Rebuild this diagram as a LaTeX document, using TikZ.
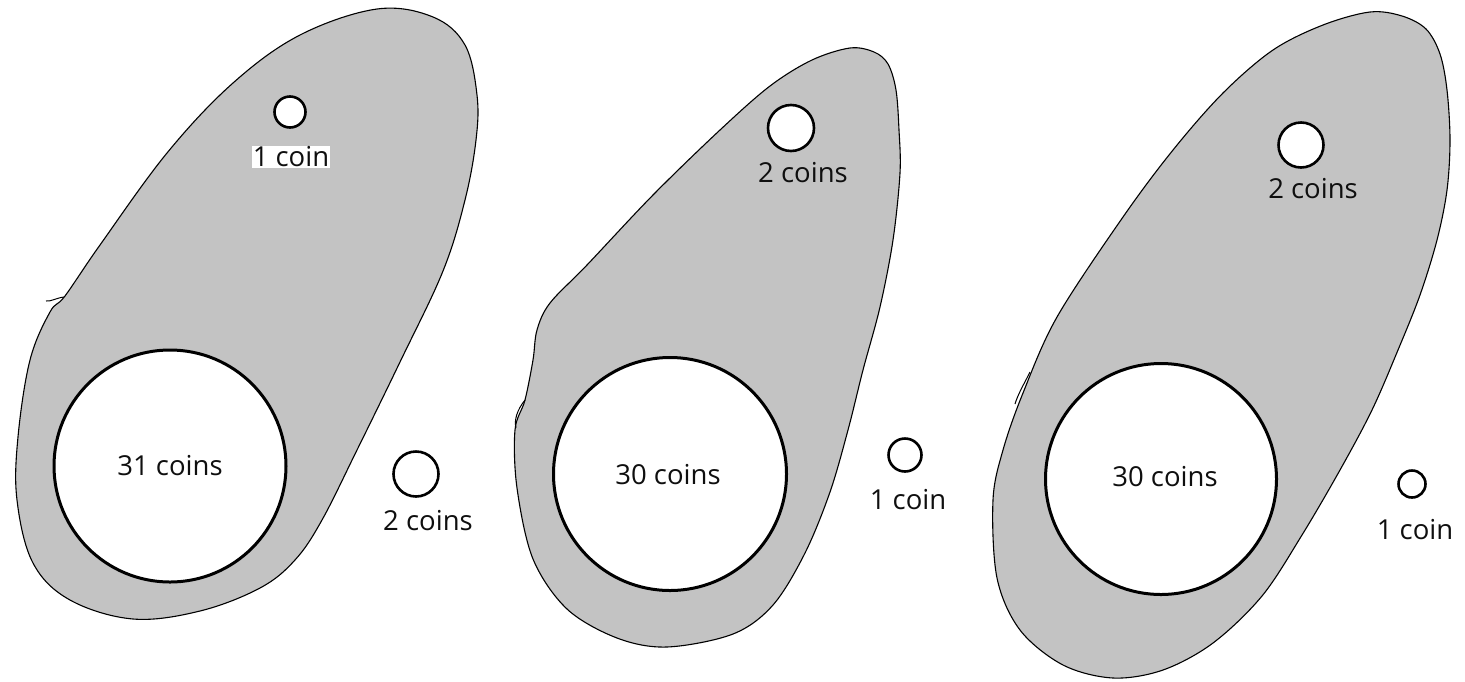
\documentclass[tikz,border=0pt]{standalone}
\usepackage{fontspec}
\setmainfont{Open Sans}
\definecolor{blobgray}{RGB}{195,195,195}
\definecolor{inktext}{RGB}{15,15,15}
\tikzset{
  blob/.style={draw=black, line width=1.1pt, fill=blobgray},
  bigcoin/.style={circle, draw=black, line width=3pt, fill=white, inner sep=0pt},
  smallcoin/.style={circle, draw=black, line width=2.6pt, fill=white, inner sep=0pt},
  lbl/.style={font=\fontsize{27.5}{30}\selectfont, text=inktext, inner sep=1pt},
  tail/.style={draw=black, line width=1pt}
}
\begin{document}
\begin{tikzpicture}[x=1pt,y=-1pt]
\useasboundingbox[fill=white] (0,0) rectangle (1465,681);

% blob 1
\draw[blob] plot[smooth cycle, tension=0.6] coordinates {
(377,9) (433,17) (465,45) (477,95) (476,140) (465,200) (443,271) (400,362)
(357,450) (322,520) (295,560) (260,588) (200,611) (133,619) (70,600) (33,563)
(17,500) (18,437) (30,360) (50,312) (65,296) (100,245) (167,153) (233,83) (300,35)};
\draw[tail] (64,297) .. controls (56,298) and (50,302) .. (46,301);

% blob 2
\draw[blob] plot[smooth cycle, tension=0.55] coordinates {
(850,48) (874,52) (888,64) (896,90) (899,130) (900,173) (893,240) (880,307)
(863,370) (848,430) (830,492) (805,553) (773,605) (733,634) (667,647) (617,638)
(567,609) (533,559) (517,488) (515,430) (525,400) (533,360) (537,330) (550,303)
(587,265) (653,195) (720,130) (770,86) (812,60)};
\draw[tail] (525,400) .. controls (517,410) and (514,420) .. (516,428);

% blob 3
\draw[blob] plot[smooth cycle, tension=0.55] coordinates {
(1370,12) (1402,16) (1426,29) (1440,54) (1447,90) (1450,140) (1447,190)
(1437,240) (1420,295) (1398,350) (1372,410) (1340,470) (1302,535) (1262,596)
(1213,643) (1163,670) (1113,678) (1063,665) (1020,630) (997,578) (993,500)
(1003,450) (1023,393) (1057,317) (1123,217) (1173,150) (1223,93) (1273,50) (1323,25)};
\draw[tail] (1030,372) .. controls (1024,384) and (1018,394) .. (1015,404);

% panel 1
\node[bigcoin, minimum size=232pt] (b1) at (170,466) {};
\node[lbl] (b1t) at (b1.center) {31 coins};
\node[smallcoin, minimum size=31pt] (s1) at (290,112) {};
\node[lbl, fill=white] (s1t) at (291,157) {1 coin};
\node[smallcoin, minimum size=45pt] (o1) at (416,474) {};
\node[lbl] (o1t) at (428,521) {2 coins};

% panel 2
\node[bigcoin, minimum size=233pt] (b2) at (670,474) {};
\node[lbl] (b2t) at (668,475) {30 coins};
\node[smallcoin, minimum size=46pt] (s2) at (791,128) {};
\node[lbl] (s2t) at (803,173) {2 coins};
\node[smallcoin, minimum size=33pt] (o2) at (905,455) {};
\node[lbl] (o2t) at (908,500) {1 coin};

% panel 3
\node[bigcoin, minimum size=231pt] (b3) at (1161,479) {};
\node[lbl] (b3t) at (1165,477) {30 coins};
\node[smallcoin, minimum size=45pt] (s3) at (1301,145) {};
\node[lbl] (s3t) at (1313,189) {2 coins};
\node[smallcoin, minimum size=27pt] (o3) at (1412,484) {};
\node[lbl] (o3t) at (1415,530) {1 coin};
\end{tikzpicture}
\end{document}
